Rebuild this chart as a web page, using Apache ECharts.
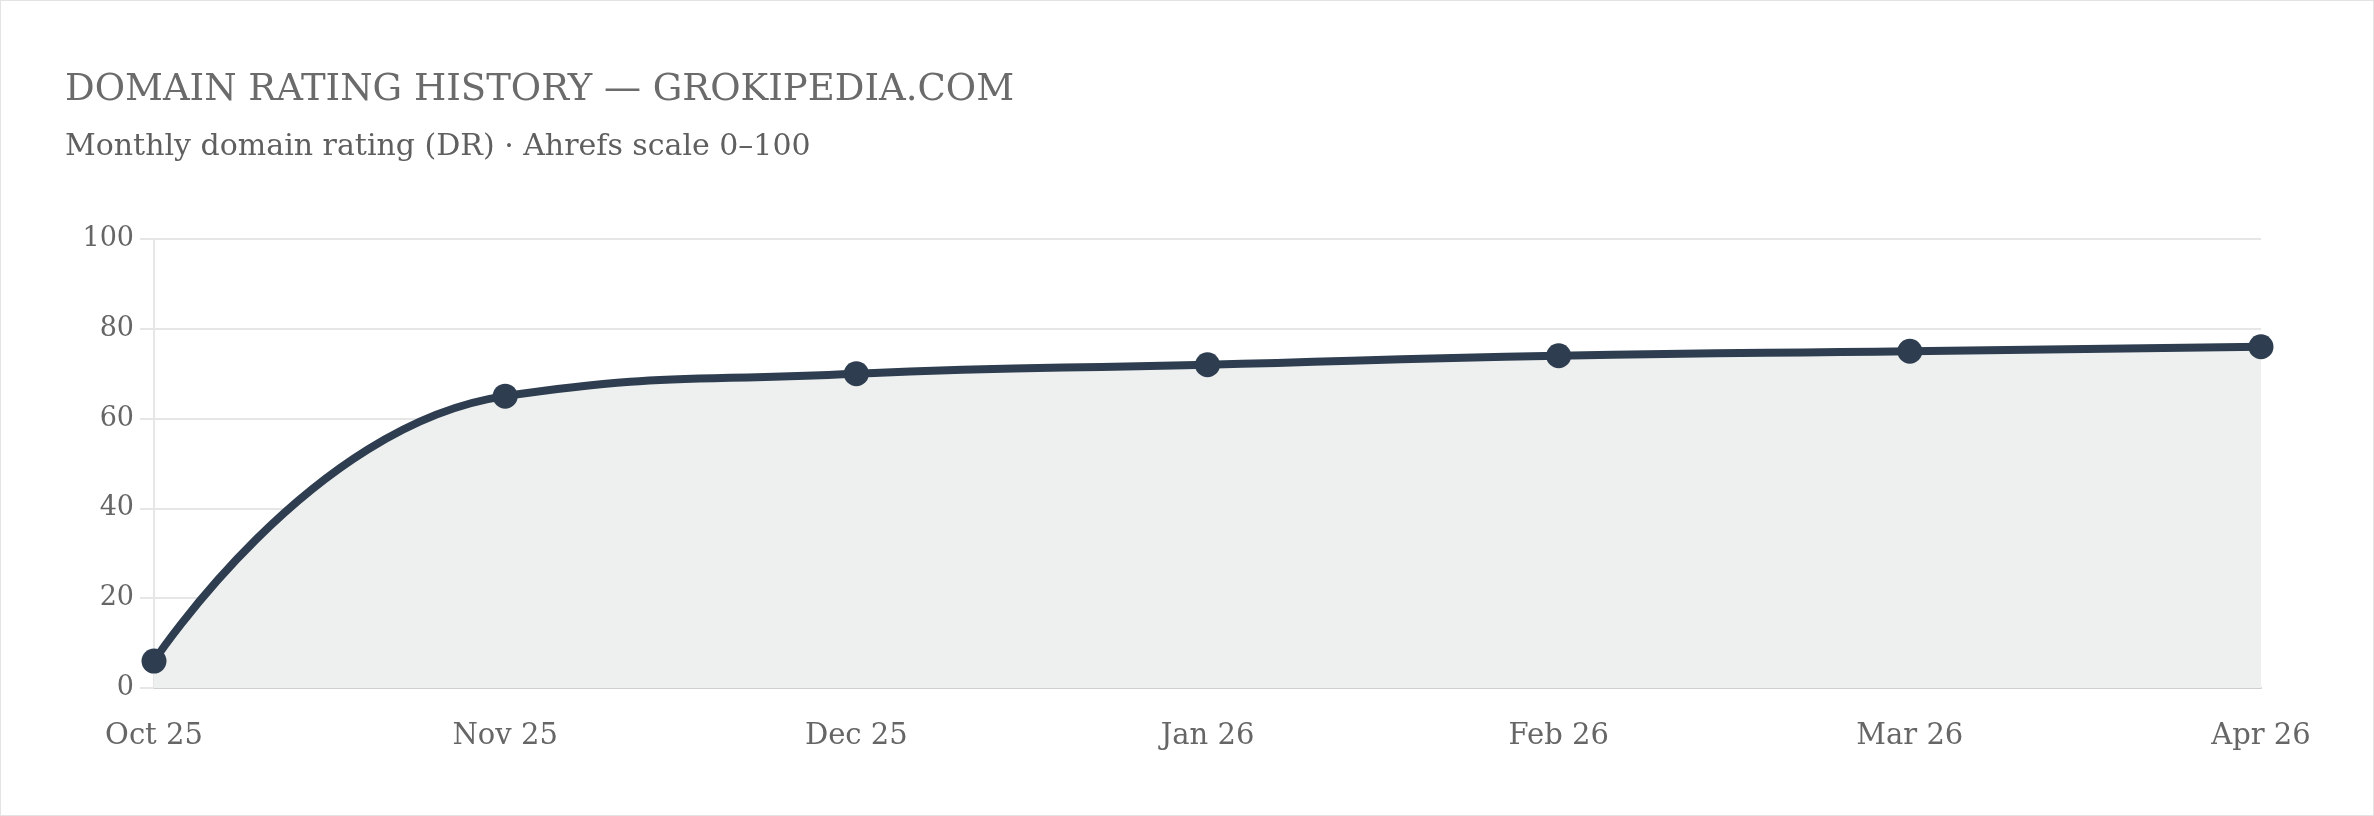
<!DOCTYPE html>
<html><head><meta charset="utf-8">
<script src="https://cdn.jsdelivr.net/npm/echarts@6/dist/echarts.min.js"></script>
<style>html,body{margin:0;padding:0;background:#fff}#c{width:2372px;height:814px;border:1px solid #e3e3e3}</style>
</head><body><div id="c"></div>
<script>
const categories = ['Oct 25','Nov 25','Dec 25','Jan 26','Feb 26','Mar 26','Apr 26'];
const drValues = [6, 65, 70, 72, 74, 75, 76];
const yTicks = [0, 20, 40, 60, 80, 100];
const font = 'DejaVu Serif';
const chart = echarts.init(document.getElementById('c'));
chart.setOption({
  backgroundColor: '#fff',
  title: [
    {text: 'DOMAIN RATING HISTORY — GROKIPEDIA.COM', left: 59, top: 66,
     textStyle: {fontFamily: font, fontSize: 37, fontWeight: 'normal', color: '#6b6b6b'}},
    {text: 'Monthly domain rating (DR) · Ahrefs scale 0–100', left: 59, top: 126,
     textStyle: {fontFamily: font, fontSize: 30, fontWeight: 'normal', color: '#5f5f5f'}}
  ],
  grid: {left: 153, right: 112, top: 238, bottom: 127},
  xAxis: {type: 'category', data: categories, boundaryGap: false,
    axisLine: {lineStyle: {color: '#cfcfcf', width: 2}}, axisTick: {show: false},
    axisLabel: {fontFamily: font, fontSize: 29, color: '#666', margin: 34}},
  yAxis: {type: 'value', min: 0, max: 100, interval: 20,
    axisLine: {show: true, lineStyle: {color: '#e6e6e6', width: 2}},
    axisTick: {show: true, length: 14, lineStyle: {color: '#e6e6e6', width: 2}},
    splitLine: {lineStyle: {color: '#e6e6e6', width: 2}},
    axisLabel: {fontFamily: font, fontSize: 27, color: '#666', margin: 20,
      formatter: v => yTicks.includes(v) ? String(v) : ''}},
  series: [{type: 'line', data: drValues, smooth: 0.5,
    symbol: 'circle', symbolSize: 25,
    itemStyle: {color: '#2e3d4f'},
    lineStyle: {color: '#2e3d4f', width: 8},
    areaStyle: {color: '#eef0ef', opacity: 1}}]
});
</script></body></html>
